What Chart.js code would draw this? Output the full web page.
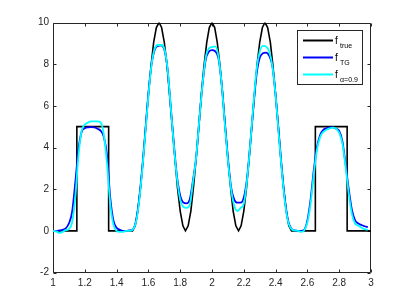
<!DOCTYPE html>
<html><head><meta charset="utf-8">
<script src="https://cdn.jsdelivr.net/npm/chart.js@4.4.0/dist/chart.umd.min.js"></script>
<style>html,body{margin:0;padding:0;background:#fff;overflow:hidden}#wrap{width:409px;height:307px;position:relative}</style>
</head><body><div id="wrap"><canvas id="c"></canvas></div>
<script>
const xTickValues = [1, 1.2, 1.4, 1.6, 1.8, 2, 2.2, 2.4, 2.6, 2.8, 3];
const xTickLabels = ['1', '1.2', '1.4', '1.6', '1.8', '2', '2.2', '2.4', '2.6', '2.8', '3'];
const yTickValues = [-2, 0, 2, 4, 6, 8, 10];
const yTickLabels = ['-2', '0', '2', '4', '6', '8', '10'];

const trueX = [1, 1.15, 1.15, 1.35, 1.35,
  1.500, 1.517, 1.533, 1.550, 1.567, 1.583, 1.600, 1.617, 1.633, 1.650,
  1.667, 1.683, 1.700, 1.717, 1.733, 1.750, 1.767, 1.783, 1.800, 1.817,
  1.833, 1.850, 1.867, 1.883, 1.900, 1.917, 1.933, 1.950, 1.967, 1.983,
  2.000, 2.017, 2.033, 2.050, 2.067, 2.083, 2.100, 2.117, 2.133, 2.150,
  2.167, 2.183, 2.200, 2.217, 2.233, 2.250, 2.267, 2.283, 2.300, 2.317,
  2.333, 2.350, 2.367, 2.383, 2.400, 2.417, 2.433, 2.450, 2.467, 2.483,
  2.500, 2.65, 2.65, 2.85, 2.85, 3];
const trueY = [0, 0, 5, 5, 0,
  0, 0.24, 0.95, 2.06, 3.45, 5, 6.55, 7.94, 9.05, 9.76,
  10, 9.76, 9.05, 7.94, 6.55, 5, 3.45, 2.06, 0.95, 0.24,
  0, 0.24, 0.95, 2.06, 3.45, 5, 6.55, 7.94, 9.05, 9.76,
  10, 9.76, 9.05, 7.94, 6.55, 5, 3.45, 2.06, 0.95, 0.24,
  0, 0.24, 0.95, 2.06, 3.45, 5, 6.55, 7.94, 9.05, 9.76,
  10, 9.76, 9.05, 7.94, 6.55, 5, 3.45, 2.06, 0.95, 0.24,
  0, 0, 5, 5, 0, 0];

const sampleX = [1.00, 1.02, 1.04, 1.06, 1.08, 1.10, 1.12, 1.14, 1.16, 1.18,
  1.20, 1.22, 1.24, 1.26, 1.28, 1.30, 1.32, 1.34, 1.36, 1.38,
  1.40, 1.42, 1.44, 1.46, 1.48, 1.50, 1.52, 1.54, 1.56, 1.58,
  1.60, 1.62, 1.64, 1.66, 1.68, 1.70, 1.72, 1.74, 1.76, 1.78,
  1.80, 1.82, 1.84, 1.86, 1.88, 1.90, 1.92, 1.94, 1.96, 1.98,
  2.00, 2.02, 2.04, 2.06, 2.08, 2.10, 2.12, 2.14, 2.16, 2.18,
  2.20, 2.22, 2.24, 2.26, 2.28, 2.30, 2.32, 2.34, 2.36, 2.38,
  2.40, 2.42, 2.44, 2.46, 2.48, 2.50, 2.52, 2.54, 2.56, 2.58,
  2.60, 2.62, 2.64, 2.66, 2.68, 2.70, 2.72, 2.74, 2.76, 2.78,
  2.80, 2.82, 2.84, 2.86, 2.88, 2.90, 2.92, 2.94, 2.96, 2.98];

const tgY = [0.0, 0.0, 0.02, 0.05, 0.12, 0.35, 0.9, 2.3, 3.9, 4.75,
  4.92, 4.97, 4.98, 4.97, 4.9, 4.8, 4.5, 3.6, 1.6, 0.5,
  0.15, 0.05, 0.0, 0.0, 0.02, 0.05, 0.4, 1.4, 2.9, 4.7,
  6.6, 8.0, 8.7, 8.88, 8.9, 8.7, 7.8, 6.0, 4.2, 2.6,
  1.7, 1.36, 1.32, 1.5, 2.4, 3.5, 5.3, 7.0, 8.2, 8.6,
  8.67, 8.62, 8.3, 7.1, 5.3, 3.5, 2.1, 1.5, 1.35, 1.35,
  1.6, 2.5, 4.1, 5.9, 7.5, 8.3, 8.52, 8.55, 8.4, 7.9,
  6.5, 4.7, 2.9, 1.4, 0.45, 0.1, 0.02, 0.0, 0.0, 0.05,
  0.5, 1.5, 2.9, 4.0, 4.6, 4.85, 4.92, 4.97, 4.97, 4.9,
  4.8, 4.3, 3.2, 2.0, 1.0, 0.5, 0.35, 0.28, 0.22, 0.18];

const alphaY = [0.0, -0.03, -0.1, -0.05, 0.03, 0.08, 0.4, 1.6, 3.6, 4.8,
  5.1, 5.2, 5.25, 5.25, 5.25, 5.2, 4.6, 3.2, 1.3, 0.3,
  0.0, -0.05, -0.05, 0.0, 0.0, 0.05, 0.35, 1.3, 2.8, 4.6,
  6.5, 8.0, 8.75, 8.92, 8.92, 8.75, 7.8, 6.0, 4.1, 2.5,
  1.5, 1.15, 1.1, 1.25, 2.3, 3.5, 5.3, 7.0, 8.3, 8.75,
  8.82, 8.85, 8.4, 7.1, 5.2, 3.4, 2.0, 1.2, 0.95, 1.1,
  1.3, 2.4, 4.1, 6.0, 7.7, 8.6, 8.88, 8.85, 8.6, 7.9,
  6.5, 4.6, 2.8, 1.3, 0.4, 0.08, 0.02, 0.0, -0.05, 0.02,
  0.4, 1.3, 2.7, 3.9, 4.5, 4.75, 4.85, 4.92, 4.95, 4.9,
  4.7, 4.2, 3.1, 1.8, 0.8, 0.35, 0.25, 0.15, 0.08, 0.05];

const seriesNames = ['f', 'f', 'f'];
const seriesSubs = ['true', 'TG', 'α=0.9'];
const seriesColors = ['#000000', '#0000ff', '#00ffff'];

const AX = '#262626';
const FONT = 'Liberation Sans, Arial, Helvetica, sans-serif';

function pts(xs, ys) { return xs.map((x, i) => ({ x: x, y: ys[i] })); }

const boxPlugin = {
  id: 'boxTicks',
  beforeDatasetsDraw(chart) {
    const ctx = chart.ctx, a = chart.chartArea;
    const xs = chart.scales.x, ys = chart.scales.y;
    const L = Math.round(a.left) + 0.5, R = Math.round(a.right) - 0.5;
    const T = Math.round(a.top) + 0.5, B = Math.round(a.bottom) - 0.5;
    ctx.save();
    ctx.strokeStyle = AX; ctx.lineWidth = 1;
    ctx.beginPath();
    ctx.rect(L, T, R - L, B - T);
    const tl = 3;
    xTickValues.forEach(v => {
      const px = Math.round(xs.getPixelForValue(v)) + 0.5;
      ctx.moveTo(px, B); ctx.lineTo(px, B - tl);
      ctx.moveTo(px, T); ctx.lineTo(px, T + tl);
    });
    yTickValues.forEach(v => {
      const py = Math.round(ys.getPixelForValue(v)) + 0.5;
      ctx.moveTo(L, py); ctx.lineTo(L + tl, py);
      ctx.moveTo(R, py); ctx.lineTo(R - tl, py);
    });
    ctx.stroke();
    ctx.restore();
  },
  afterDraw(chart) {
    const ctx = chart.ctx, a = chart.chartArea;
    const w = 65, h = 54;
    const left = Math.round(a.right) - 9 - w, top = Math.round(a.top) + 7;
    ctx.save();
    ctx.fillStyle = '#ffffff';
    ctx.fillRect(left, top, w, h);
    ctx.strokeStyle = AX; ctx.lineWidth = 1;
    ctx.strokeRect(left + 0.5, top + 0.5, w, h);
    seriesNames.forEach((name, i) => {
      const y = top + 10.5 + i * 17;
      ctx.strokeStyle = seriesColors[i];
      ctx.lineWidth = 2;
      ctx.beginPath(); ctx.moveTo(left + 6, y); ctx.lineTo(left + 36, y); ctx.stroke();
      ctx.fillStyle = '#000000';
      ctx.textBaseline = 'alphabetic';
      ctx.font = '10px ' + FONT;
      ctx.fillText(name, left + 38, y + 3.5);
      ctx.font = '7px ' + FONT;
      ctx.fillText(seriesSubs[i], left + 43, y + 7);
    });
    ctx.restore();
  }
};

new Chart(document.getElementById('c'), {
  type: 'line',
  data: {
    datasets: [
      { label: 'f true', order: 3, data: pts(trueX, trueY), borderColor: seriesColors[0], borderWidth: 1.6, pointRadius: 0, tension: 0, fill: false },
      { label: 'f TG', order: 2, data: pts(sampleX, tgY), borderColor: seriesColors[1], borderWidth: 1.8, pointRadius: 0, cubicInterpolationMode: 'monotone', fill: false },
      { label: 'f α=0.9', order: 1, data: pts(sampleX, alphaY), borderColor: seriesColors[2], borderWidth: 1.8, pointRadius: 0, cubicInterpolationMode: 'monotone', fill: false }
    ]
  },
  options: {
    responsive: true, maintainAspectRatio: false, animation: false,
    layout: { padding: { left: 0, top: 22.5, right: 38, bottom: 0 } },
    plugins: { legend: { display: false }, tooltip: { enabled: false } },
    scales: {
      x: {
        type: 'linear', min: 1, max: 3,
        afterBuildTicks: s => { s.ticks = xTickValues.map(v => ({ value: v })); },
        afterFit: s => { s.height = 34.5; },
        ticks: { autoSkip: false, maxRotation: 0, padding: 5, color: AX, font: { family: FONT, size: 10 },
          callback: (v) => xTickLabels[xTickValues.indexOf(v)] },
        grid: { display: false, drawTicks: false }, border: { display: false }
      },
      y: {
        type: 'linear', min: -2, max: 10,
        afterBuildTicks: s => { s.ticks = yTickValues.map(v => ({ value: v })); },
        afterFit: s => { s.width = 53; },
        ticks: { padding: 4, color: AX, font: { family: FONT, size: 10 },
          callback: (v) => yTickLabels[yTickValues.indexOf(v)] },
        grid: { display: false, drawTicks: false }, border: { display: false }
      }
    }
  },
  plugins: [boxPlugin]
});
</script>
</body></html>
